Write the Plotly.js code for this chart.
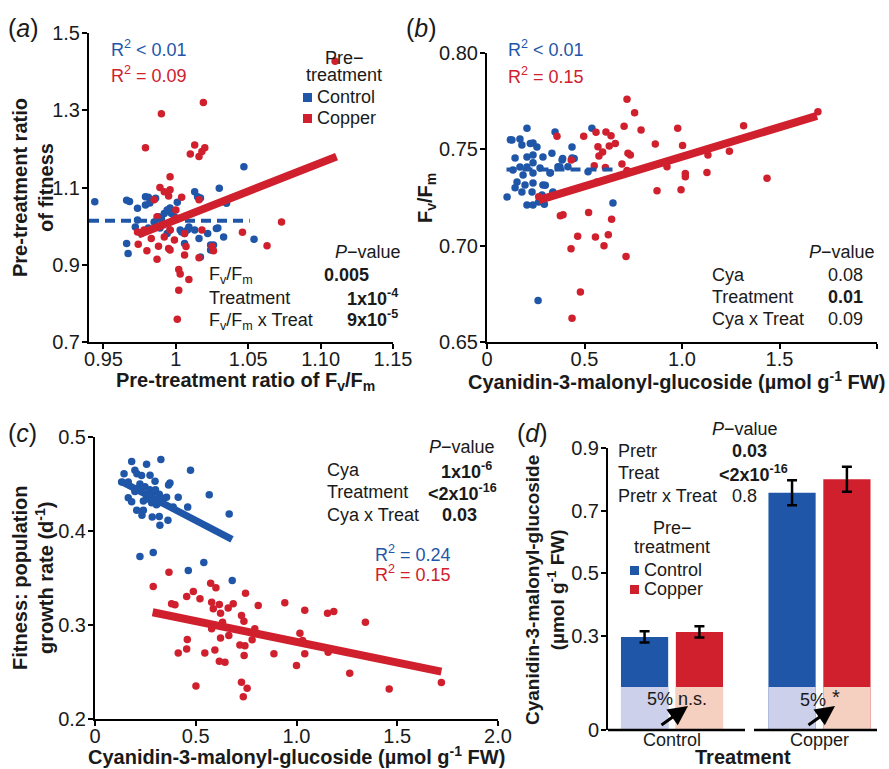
<!DOCTYPE html>
<html>
<head>
<meta charset="utf-8">
<script src="https://cdn.plot.ly/plotly-3.0.1.min.js"></script>
<style>
  html, body { margin: 0; padding: 0; background: #fff; }
  #chart { width: 889px; height: 769px; }
</style>
</head>
<body>
<div id="chart"></div>
<script>
// ---------- Panel (a): pre-treatment ratio of Fv/Fm vs ratio of fitness ----------
const aCtrlX = [0.944,0.966,0.968,0.966,0.967,0.9735,0.979,0.979,0.9735,0.972,0.976,0.986,0.985,0.988,0.990,0.992,0.994,0.997,0.999,0.994,0.996,1.001,1.002,1.003,1.006,1.008,1.009,1.013,1.015,1.016,1.017,1.013,1.022,1.024,1.024,1.028,1.030,1.035,1.033,1.047,1.054,1.006,0.981,0.982,0.996,1.017,0.990,0.981,0.989,1.004,1.026,1.029];
const aCtrlY = [1.063,1.067,1.064,0.955,0.929,1.046,1.076,1.055,1.016,0.998,0.981,1.072,1.011,1.024,1.020,1.033,1.042,1.033,1.024,0.981,0.990,1.062,1.020,0.990,0.981,0.990,0.998,1.089,1.076,0.968,0.920,0.990,0.981,0.951,0.938,0.994,1.098,1.059,0.972,1.154,0.966,0.955,1.075,1.060,1.047,1.073,1.021,0.995,0.995,0.985,0.951,0.995];
const aCuX = [1.110,1.019,0.990,0.979,1.010,1.013,1.016,1.018,1.020,0.996,0.989,0.992,0.996,0.995,1.004,0.985,1.016,1.000,0.987,1.000,0.9735,0.978,0.983,0.992,0.996,1.006,1.007,0.999,0.995,0.974,0.988,0.980,0.996,1.006,0.987,1.016,1.018,1.025,1.026,1.046,1.063,1.073,1.002,1.003,1.009,1.002,1.001];
const aCuY = [1.427,1.320,1.291,1.203,1.187,1.210,1.180,1.193,1.203,1.128,1.100,1.089,1.094,1.078,1.075,1.068,1.068,1.042,1.024,1.020,0.985,0.990,0.968,0.972,0.990,0.981,0.947,0.964,0.942,0.953,0.948,0.936,0.938,0.925,0.914,0.918,0.990,0.947,0.936,0.984,0.949,1.011,0.888,0.876,0.862,0.834,0.759];
const aCtrlFitX = [0.940, 1.051], aCtrlFitY = [1.014, 1.014];
const aCuFitX = [0.974, 1.111], aCuFitY = [0.978, 1.180];
const aXTicks = [0.95, 1, 1.05, 1.10, 1.15], aXTickText = ['0.95', '1', '1.05', '1.10', '1.15'];
const aYTicks = [0.7, 0.9, 1.1, 1.3, 1.5], aYTickText = ['0.7', '0.9', '1.1', '1.3', '1.5'];

// ---------- Panel (b): cyanidin-3-malonyl-glucoside vs Fv/Fm ----------
const bCtrlX = [0.205,0.128,0.169,0.179,0.236,0.256,0.349,0.436,0.144,0.205,0.236,0.287,0.333,0.385,0.436,0.169,0.205,0.236,0.272,0.133,0.185,0.236,0.323,0.374,0.154,0.195,0.236,0.287,0.144,0.179,0.231,0.103,0.282,0.338,0.205,0.236,0.646,0.538,0.262,0.415,0.364,0.518,0.265,0.294,0.299,0.337,0.325,0.388,0.447,0.120,0.222];
const bCtrlY = [0.761,0.7548,0.7554,0.7522,0.7533,0.7512,0.759,0.7512,0.7455,0.746,0.747,0.746,0.748,0.7445,0.7455,0.7408,0.7408,0.743,0.7403,0.7393,0.7367,0.7377,0.7377,0.7408,0.733,0.7315,0.7325,0.7315,0.730,0.7278,0.7278,0.7253,0.7263,0.7278,0.7211,0.7211,0.7221,0.761,0.6715,0.741,0.741,0.7384,0.7227,0.7215,0.7314,0.7274,0.7378,0.7453,0.7453,0.755,0.753];
const bCuX = [0.718,0.757,0.703,0.790,0.978,1.316,1.697,0.359,0.496,0.559,0.610,0.636,0.658,0.569,0.627,0.574,0.593,0.863,1.003,0.723,0.735,0.923,1.017,1.128,1.133,1.243,1.436,0.550,0.607,0.692,0.718,0.564,0.432,0.872,0.995,0.265,0.376,0.390,0.521,0.639,0.465,0.556,0.622,0.600,0.431,0.713,0.479,0.436,1.017];
const bCuY = [0.776,0.769,0.762,0.760,0.761,0.7623,0.7695,0.7568,0.7568,0.7589,0.759,0.757,0.753,0.7514,0.7517,0.7465,0.7486,0.7528,0.752,0.748,0.747,0.741,0.7375,0.738,0.747,0.749,0.735,0.7415,0.7406,0.7424,0.739,0.733,0.7444,0.7285,0.729,0.7254,0.7155,0.716,0.7172,0.7137,0.7049,0.7045,0.7057,0.700,0.6984,0.6944,0.676,0.6623,0.7358];
const bCtrlFitX = [0.10, 0.65], bCtrlFitY = [0.7395, 0.7395];
const bCuFitX = [0.265, 1.692], bCuFitY = [0.7236, 0.7674];
const bXTicks = [0, 0.5, 1.0, 1.5, 2.0], bXTickText = ['0', '0.5', '1.0', '1.5', '2.0'];
const bYTicks = [0.65, 0.70, 0.75, 0.80], bYTickText = ['0.65', '0.70', '0.75', '0.80'];

// ---------- Panel (c): cyanidin-3-malonyl-glucoside vs population growth rate ----------
const cCtrlX = [0.182,0.327,0.256,0.474,0.144,0.198,0.208,0.231,0.132,0.165,0.223,0.248,0.298,0.372,0.365,0.567,0.165,0.182,0.198,0.272,0.289,0.264,0.256,0.281,0.319,0.355,0.413,0.388,0.460,0.207,0.240,0.284,0.319,0.322,0.666,0.223,0.289,0.540,0.463,0.681,0.305,0.273,0.213,0.313,0.337,0.233,0.362,0.240,0.300];
const cCtrlY = [0.474,0.476,0.471,0.4645,0.461,0.4645,0.461,0.459,0.452,0.452,0.450,0.447,0.453,0.451,0.449,0.4386,0.4354,0.431,0.442,0.444,0.441,0.438,0.434,0.430,0.439,0.436,0.436,0.4254,0.4254,0.422,0.422,0.4148,0.4155,0.406,0.418,0.373,0.377,0.3665,0.358,0.3474,0.428,0.4594,0.4456,0.4295,0.4349,0.4167,0.4114,0.432,0.444];
const cCuX = [0.367,0.289,0.574,0.600,0.488,0.747,0.455,0.521,0.380,0.397,0.579,0.617,0.686,0.661,0.587,0.810,0.942,1.041,1.154,1.185,1.342,0.623,0.727,0.739,0.633,0.579,0.793,0.664,0.623,0.458,0.780,0.719,0.744,1.017,1.030,0.455,0.595,0.413,0.545,0.740,0.888,1.041,1.157,0.617,0.645,1.000,1.264,0.501,0.727,0.755,1.460,1.719,0.736];
const cCuY = [0.3562,0.341,0.3445,0.3395,0.3356,0.3339,0.3303,0.3278,0.3225,0.3215,0.3243,0.3218,0.3225,0.3182,0.3172,0.3207,0.3236,0.3158,0.3126,0.3143,0.303,0.3126,0.310,0.304,0.303,0.296,0.296,0.2888,0.2863,0.2845,0.2842,0.2788,0.278,0.2912,0.2835,0.2746,0.2735,0.2703,0.2703,0.2675,0.2693,0.2693,0.271,0.2614,0.2604,0.2568,0.2487,0.2352,0.239,0.2327,0.232,0.2387,0.2238];
const cCtrlFitX = [0.13, 0.680], cCtrlFitY = [0.4527, 0.391];
const cCuFitX = [0.286, 1.719], cCuFitY = [0.3136, 0.2504];
const cYTicks = [0.2, 0.3, 0.4, 0.5], cYTickText = ['0.2', '0.3', '0.4', '0.5'];

// ---------- Panel (d): cyanidin-3-malonyl-glucoside by treatment ----------
const treatments = ['Control', 'Copper'];
const dCtrlMean = [0.297, 0.757], dCtrlErr = [0.018, 0.040];
const dCuMean = [0.313, 0.800], dCuErr = [0.018, 0.040];
const dFivePct = [0.137, 0.137];
const dYTicks = [0, 0.3, 0.5, 0.7, 0.9], dYTickText = ['0', '0.3', '0.5', '0.7', '0.9'];

// ---------- styling ----------
const W = 889, H = 769;
const BLUE = '#1f56a8', RED = '#d0202e';
const PALE_BLUE = '#cdd0ea', PALE_RED = '#f5cfc0';
const TXT = '#1a1a1a';
const FONT = 'Liberation Sans, Arial, sans-serif';
const px = v => v / W;
const py = v => 1 - v / H;

const axBase = {
  showline: true, linecolor: '#000', linewidth: 2,
  ticks: 'outside', ticklen: 5, tickwidth: 2, tickcolor: '#000',
  showgrid: false, zeroline: false, fixedrange: true,
  tickfont: { size: 20, color: TXT, family: FONT }
};
const xTickShift = { ticklabelstandoff: -7 };
const yTickShift = { ticklabelstandoff: -2 };

function pts(x, y, color, xa, ya) {
  return { type: 'scatter', mode: 'markers', x, y, xaxis: xa, yaxis: ya,
    marker: { size: 7.5, color }, hoverinfo: 'skip' };
}
function fit(x, y, color, xa, ya, width, dash) {
  return { type: 'scatter', mode: 'lines', x, y, xaxis: xa, yaxis: ya,
    line: { color, width, dash: dash || 'solid' }, hoverinfo: 'skip' };
}

// bar positions within each treatment group
const off = 0.186, bw = 0.32;
const grp = treatments.map((t, i) => i);

const traces = [
  pts(aCtrlX, aCtrlY, BLUE, 'x', 'y'),
  pts(aCuX, aCuY, RED, 'x', 'y'),
  fit(aCtrlFitX, aCtrlFitY, BLUE, 'x', 'y', 4, '10px,6px'),
  fit(aCuFitX, aCuFitY, RED, 'x', 'y', 8),

  pts(bCtrlX, bCtrlY, BLUE, 'x2', 'y2'),
  pts(bCuX, bCuY, RED, 'x2', 'y2'),
  fit(bCtrlFitX, bCtrlFitY, BLUE, 'x2', 'y2', 4, '10px,6px'),
  fit(bCuFitX, bCuFitY, RED, 'x2', 'y2', 8),

  pts(cCtrlX, cCtrlY, BLUE, 'x3', 'y3'),
  pts(cCuX, cCuY, RED, 'x3', 'y3'),
  fit(cCtrlFitX, cCtrlFitY, BLUE, 'x3', 'y3', 7),
  fit(cCuFitX, cCuFitY, RED, 'x3', 'y3', 8),

  { type: 'bar', x: grp.map(g => g - off), y: dCtrlMean, width: bw, xaxis: 'x4', yaxis: 'y4',
    marker: { color: BLUE, line: { width: 0 } }, hoverinfo: 'skip',
    error_y: { type: 'data', array: dCtrlErr, color: '#000', thickness: 2.5, width: 5 } },
  { type: 'bar', x: grp.map(g => g + off), y: dCuMean, width: bw, xaxis: 'x4', yaxis: 'y4',
    marker: { color: RED, line: { width: 0 } }, hoverinfo: 'skip',
    error_y: { type: 'data', array: dCuErr, color: '#000', thickness: 2.5, width: 5 } },
  { type: 'bar', x: grp.map(g => g - off), y: dFivePct, width: bw, xaxis: 'x4', yaxis: 'y4',
    marker: { color: PALE_BLUE, line: { width: 0 } }, hoverinfo: 'skip' },
  { type: 'bar', x: grp.map(g => g + off), y: dFivePct, width: bw, xaxis: 'x4', yaxis: 'y4',
    marker: { color: PALE_RED, line: { width: 0 } }, hoverinfo: 'skip' }
];

function ann(text, x, y, o) {
  return Object.assign({ text, xref: 'paper', yref: 'paper', x: px(x), y: py(y),
    showarrow: false, xanchor: 'left', yanchor: 'middle',
    font: { size: 18, color: TXT, family: FONT } }, o || {});
}
const bold20 = { size: 20, color: TXT, family: FONT };
const FVFM = 'F<sub>v</sub>/F<sub>m</sub>';

const annotations = [
  // panel letters
  ann('(<i>a</i>)', 6, 28, { font: { size: 25, color: TXT, family: FONT } }),
  ann('(<i>b</i>)', 404, 28, { font: { size: 25, color: TXT, family: FONT } }),
  ann('(<i>c</i>)', 6, 433, { font: { size: 25, color: TXT, family: FONT } }),
  ann('(<i>d</i>)', 515, 433, { font: { size: 25, color: TXT, family: FONT } }),

  // axis titles
  ann('<b>Pre-treatment ratio<br>of fitness</b>', 33, 188, { xanchor: 'center', textangle: -90, font: bold20 }),
  ann('<b>Pre-treatment ratio of ' + FVFM + '</b>', 245, 381, { xanchor: 'center', font: bold20 }),
  ann('<b>' + FVFM + '</b>', 426, 198, { xanchor: 'center', textangle: -90, font: bold20 }),
  ann('<b>Cyanidin-3-malonyl-glucoside (µmol g<sup>-1</sup> FW)</b>', 676, 380, { xanchor: 'center', font: bold20 }),
  ann('<b>Fitness: population<br>growth rate (d<sup>-1</sup>)</b>', 33, 578, { xanchor: 'center', textangle: -90, font: bold20 }),
  ann('<b>Cyanidin-3-malonyl-glucoside (µmol g<sup>-1</sup> FW)</b>', 296, 755, { xanchor: 'center', font: bold20 }),
  ann('<b>Cyanidin-3-malonyl-glucoside<br>(µmol g<sup>-1</sup> FW)</b>', 545, 590, { xanchor: 'center', textangle: -90, font: { size: 19, color: TXT, family: FONT } }),
  ann('<b>Treatment</b>', 743, 757, { xanchor: 'center', font: bold20 }),

  // panel (a) text
  ann('R<sup>2</sup> &lt; 0.01', 109, 48, { font: { size: 18, color: BLUE, family: FONT } }),
  ann('R<sup>2</sup> = 0.09', 109, 74, { font: { size: 18, color: RED, family: FONT } }),
  ann('Pre−', 344, 58, { xanchor: 'center' }),
  ann('treatment', 344, 75, { xanchor: 'center' }),
  ann('Control', 315, 97),
  ann('Copper', 315, 118),
  ann('<i>P</i>−value', 403, 252, { xanchor: 'right' }),
  ann(FVFM, 207, 275),
  ann('<b>0.005</b>', 371, 275, { xanchor: 'right' }),
  ann('Treatment', 207, 298),
  ann('<b>1x10<sup>-4</sup></b>', 400, 297, { xanchor: 'right' }),
  ann(FVFM + ' x Treat', 207, 321),
  ann('<b>9x10<sup>-5</sup></b>', 400, 319, { xanchor: 'right' }),

  // panel (b) text
  ann('R<sup>2</sup> &lt; 0.01', 506, 48, { font: { size: 18, color: BLUE, family: FONT } }),
  ann('R<sup>2</sup> = 0.15', 506, 75, { font: { size: 18, color: RED, family: FONT } }),
  ann('<i>P</i>−value', 877, 252, { xanchor: 'right' }),
  ann('Cya', 710, 275),
  ann('0.08', 826, 275),
  ann('Treatment', 710, 297),
  ann('<b>0.01</b>', 826, 297),
  ann('Cya x Treat', 710, 319),
  ann('0.09', 826, 319),

  // panel (c) text
  ann('<i>P</i>−value', 497, 447, { xanchor: 'right' }),
  ann('Cya', 325, 470),
  ann('<b>1x10<sup>-6</sup></b>', 494, 470, { xanchor: 'right' }),
  ann('Treatment', 325, 492),
  ann('<b>&lt;2x10<sup>-16</sup></b>', 499, 492, { xanchor: 'right' }),
  ann('Cya x Treat', 325, 515),
  ann('<b>0.03</b>', 479, 515, { xanchor: 'right' }),
  ann('R<sup>2</sup> = 0.24', 373, 553, { font: { size: 18, color: BLUE, family: FONT } }),
  ann('R<sup>2</sup> = 0.15', 373, 573, { font: { size: 18, color: RED, family: FONT } }),

  // panel (d) text
  ann('<i>P</i>−value', 745, 429, { xanchor: 'center' }),
  ann('Pretr', 616, 451),
  ann('<b>0.03</b>', 769, 451, { xanchor: 'right' }),
  ann('Treat', 616, 473),
  ann('<b>&lt;2x10<sup>-16</sup></b>', 790, 473, { xanchor: 'right' }),
  ann('Pretr x Treat', 616, 496),
  ann('0.8', 759, 496, { xanchor: 'right' }),
  ann('Pre−', 672, 528, { xanchor: 'center' }),
  ann('treatment', 672, 547, { xanchor: 'center' }),
  ann('Control', 642, 570),
  ann('Copper', 642, 589),
  ann('5% n.s.', 645, 699),
  ann('5%', 798, 700),
  ann('*', 836, 697, { xanchor: 'center', font: { size: 20, color: TXT, family: FONT } }),

  // arrows marking the 5% comparison
  { text: '', xref: 'paper', yref: 'paper', x: px(688), y: py(706), ax: -28, ay: 20,
    showarrow: true, arrowhead: 2, arrowsize: 1.3, arrowwidth: 3, arrowcolor: '#000', standoff: 0 },
  { text: '', xref: 'paper', yref: 'paper', x: px(835), y: py(706), ax: -28, ay: 20,
    showarrow: true, arrowhead: 2, arrowsize: 1.3, arrowwidth: 3, arrowcolor: '#000', standoff: 0 }
];

const shapes = [
  // legend swatches, panel (a)
  { type: 'rect', xref: 'paper', yref: 'paper', x0: px(303), x1: px(312), y0: py(102), y1: py(93), fillcolor: BLUE, line: { width: 0 } },
  { type: 'rect', xref: 'paper', yref: 'paper', x0: px(303), x1: px(312), y0: py(123), y1: py(114), fillcolor: RED, line: { width: 0 } },
  // legend swatches, panel (d)
  { type: 'rect', xref: 'paper', yref: 'paper', x0: px(630), x1: px(639), y0: py(575), y1: py(566), fillcolor: BLUE, line: { width: 0 } },
  { type: 'rect', xref: 'paper', yref: 'paper', x0: px(630), x1: px(639), y0: py(594), y1: py(585), fillcolor: RED, line: { width: 0 } },
  // broken baseline under the two treatment groups, panel (d)
  { type: 'line', xref: 'paper', yref: 'paper', x0: px(608), x1: px(745), y0: py(730), y1: py(730), line: { color: '#000', width: 2.5 } },
  { type: 'line', xref: 'paper', yref: 'paper', x0: px(754), x1: px(877), y0: py(730), y1: py(730), line: { color: '#000', width: 2.5 } }
];

const layout = {
  width: W, height: H,
  margin: { l: 0, r: 0, t: 0, b: 0 },
  paper_bgcolor: '#fff', plot_bgcolor: 'rgba(0,0,0,0)',
  showlegend: false,
  font: { family: FONT, color: TXT },
  barmode: 'overlay',

  xaxis: Object.assign({}, axBase, xTickShift, { domain: [px(89), px(393)], range: [0.94, 1.15], anchor: 'y', tickvals: aXTicks, ticktext: aXTickText }),
  yaxis: Object.assign({}, axBase, yTickShift, { domain: [py(342), py(33)], range: [0.7, 1.5], anchor: 'x', tickvals: aYTicks, ticktext: aYTickText }),

  xaxis2: Object.assign({}, axBase, xTickShift, { domain: [px(487), px(877)], range: [0, 2], anchor: 'y2', tickvals: bXTicks, ticktext: bXTickText }),
  yaxis2: Object.assign({}, axBase, yTickShift, { domain: [py(342), py(53)], range: [0.65, 0.80], anchor: 'x2', tickvals: bYTicks, ticktext: bYTickText }),

  xaxis3: Object.assign({}, axBase, xTickShift, { domain: [px(95), px(498)], range: [0, 2], anchor: 'y3', tickvals: bXTicks, ticktext: bXTickText }),
  yaxis3: Object.assign({}, axBase, yTickShift, { domain: [py(719), py(437)], range: [0.2, 0.5], anchor: 'x3', tickvals: cYTicks, ticktext: cYTickText }),

  xaxis4: Object.assign({}, axBase, { domain: [px(608), px(877)], range: [-0.434, 1.39], anchor: 'y4', showline: false, ticks: '', ticklabelstandoff: -3, tickvals: grp, ticktext: treatments, tickfont: { size: 18, color: TXT, family: FONT } }),
  yaxis4: Object.assign({}, axBase, yTickShift, { domain: [py(730), py(448)], range: [0, 0.9], anchor: 'x4', tickvals: dYTicks, ticktext: dYTickText }),

  annotations, shapes
};

Plotly.newPlot('chart', traces, layout, { staticPlot: true, displayModeBar: false });
</script>
</body>
</html>
